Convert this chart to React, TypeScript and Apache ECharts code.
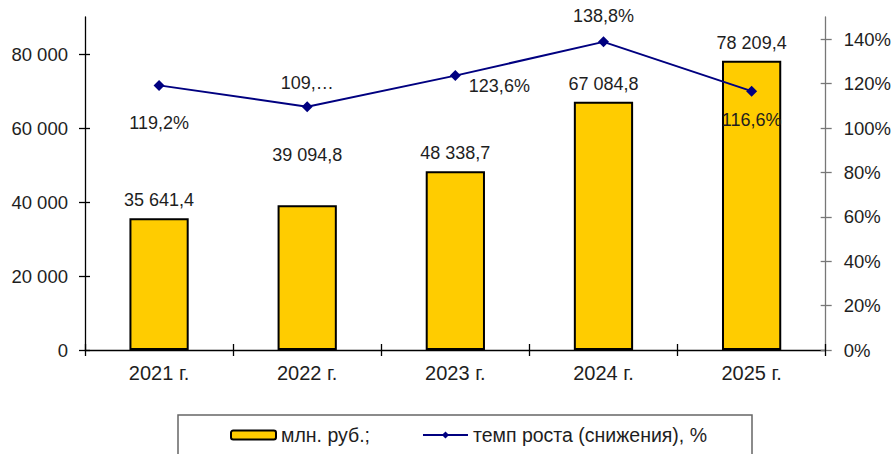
import React, { useEffect, useRef } from "react";
import * as echarts from "echarts";

const categories = ["2021 г.", "2022 г.", "2023 г.", "2024 г.", "2025 г."];
const amounts = [35641.4, 39094.8, 48338.7, 67084.8, 78209.4];
const amountLabels = ["35 641,4", "39 094,8", "48 338,7", "67 084,8", "78 209,4"];
const rates = [119.2, 109.6, 123.6, 138.8, 116.6];
const rateLabels = ["119,2%", "109,…", "123,6%", "138,8%", "116,6%"];
const leftTicks = [0, 20000, 40000, 60000, 80000];
const rightTicks = [0, 20, 40, 60, 80, 100, 120, 140];
const seriesNames = ["млн. руб.;", "темп роста (снижения), %"];

const FONT = "'Liberation Sans', Arial, sans-serif";
const TXT = "#1e1e1e";

const fmtThousands = (v: number) =>
  String(Math.round(v)).replace(/\B(?=(\d{3})+(?!\d))/g, " ");

export default function App() {
  const ref = useRef<HTMLDivElement>(null);
  useEffect(() => {
    document.body.style.margin = "0";
    if (!ref.current) return;
    const chart = echarts.init(ref.current, null, { renderer: "svg" });

    const rateLabelCfg = [
      { position: "bottom", distance: 23 },
      { position: "top", distance: 9 },
      { position: "right", distance: 8, offset: [0, 10] },
      { position: "top", distance: 11 },
      { position: "bottom", distance: 14 },
    ];
    const amountLabelCfg = [9, 41, 9, 9, 9];

    chart.setOption({
      animation: false,
      textStyle: { fontFamily: FONT },
      grid: { left: 85, right: 67, top: 17, bottom: 104, containLabel: false },
      graphic: [
        {
          type: "rect",
          shape: { x: 178, y: 415, width: 574, height: 60 },
          style: { fill: "none", stroke: "#666", lineWidth: 1.5 },
          silent: true,
        },
      ],
      legend: {
        left: 230,
        top: 425,
        itemWidth: 45,
        itemHeight: 9,
        itemGap: 52,
        padding: 0,
        textStyle: { fontSize: 19.5, color: TXT, fontFamily: FONT },
        data: seriesNames,
      },
      xAxis: [
        {
          type: "category",
          data: categories,
          position: "bottom",
          axisLine: { lineStyle: { color: "#000", width: 1.3 } },
          axisTick: { show: true, length: 6, lineStyle: { color: "#000", width: 1.3 } },
          axisLabel: { fontSize: 20, color: TXT, margin: 13, fontFamily: FONT },
        },
        {
          type: "category",
          data: categories,
          position: "bottom",
          axisLine: { show: false },
          axisTick: { show: true, inside: true, length: 6, lineStyle: { color: "#000", width: 1.3 } },
          axisLabel: { show: false },
        },
      ],
      yAxis: [
        {
          type: "value",
          position: "left",
          min: 0,
          max: 90000,
          interval: 20000,
          splitLine: { show: false },
          axisLine: { show: true, lineStyle: { color: "#000", width: 1.3 } },
          axisTick: { show: true, length: 6, customValues: leftTicks, lineStyle: { color: "#000", width: 1.3 } },
          axisLabel: {
            customValues: leftTicks,
            fontSize: 18.5,
            color: TXT,
            margin: 17,
            fontFamily: FONT,
            formatter: (v: number) => fmtThousands(v),
          },
        },
        {
          type: "value",
          position: "right",
          min: 0,
          max: 150,
          interval: 20,
          splitLine: { show: false },
          axisLine: { show: true, lineStyle: { color: "#777", width: 1.3 } },
          axisTick: { show: true, length: 6, customValues: rightTicks, lineStyle: { color: "#777", width: 1.3 } },
          axisLabel: {
            customValues: rightTicks,
            fontSize: 18.5,
            color: TXT,
            margin: 18,
            fontFamily: FONT,
            formatter: (v: number) => v + "%",
          },
        },
        {
          type: "value",
          position: "left",
          min: 0,
          max: 90000,
          interval: 20000,
          splitLine: { show: false },
          axisLine: { show: false },
          axisTick: { show: true, inside: true, length: 5, customValues: leftTicks, lineStyle: { color: "#000", width: 1.3 } },
          axisLabel: { show: false },
        },
        {
          type: "value",
          position: "right",
          min: 0,
          max: 150,
          interval: 20,
          splitLine: { show: false },
          axisLine: { show: false },
          axisTick: { show: true, inside: true, length: 5, customValues: rightTicks, lineStyle: { color: "#777", width: 1.3 } },
          axisLabel: { show: false },
        },
      ],
      series: [
        {
          name: seriesNames[0],
          type: "bar",
          xAxisIndex: 0,
          yAxisIndex: 0,
          barWidth: "40%",
          itemStyle: { color: "#FFCC00", borderColor: "#000", borderWidth: 2 },
          data: amounts.map((v, i) => ({
            value: v,
            label: {
              show: true,
              position: "top",
              distance: amountLabelCfg[i],
              formatter: amountLabels[i],
              fontSize: 18,
              color: TXT,
              fontFamily: FONT,
            },
          })),
        },
        {
          name: seriesNames[1],
          type: "line",
          xAxisIndex: 0,
          yAxisIndex: 1,
          symbol: "diamond",
          symbolSize: 11,
          lineStyle: { color: "#000080", width: 2 },
          itemStyle: { color: "#000080" },
          z: 5,
          data: rates.map((v, i) => ({
            value: v,
            label: {
              show: true,
              formatter: rateLabels[i],
              fontSize: 18,
              color: TXT,
              fontFamily: FONT,
              ...rateLabelCfg[i],
            },
          })),
        },
      ],
    });
    return () => chart.dispose();
  }, []);
  return <div ref={ref} style={{ width: 894, height: 454 }} />;
}
